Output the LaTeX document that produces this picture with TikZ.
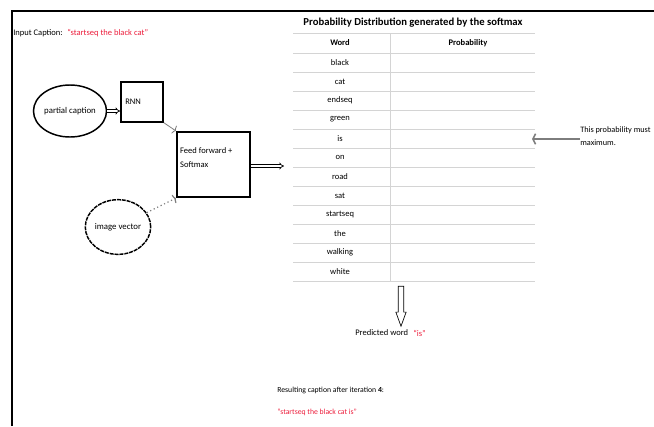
\documentclass[tikz,border=0pt]{standalone}
\usepackage{fontspec}
\setmainfont{Carlito}
\usetikzlibrary{positioning,arrows.meta,shapes.geometric,shapes.arrows}
\definecolor{capred}{RGB}{236,30,60}
\definecolor{gridgray}{RGB}{212,212,212}
\definecolor{linkgray}{RGB}{125,125,125}

\tikzset{
  txt/.style={font=\fontsize{6.4}{7.5}\selectfont, inner sep=0pt},
  headtxt/.style={font=\fontsize{6.4}{7.5}\selectfont\bfseries, inner sep=0pt},
  ell/.style={draw, ellipse, line width=1.1pt, inner sep=0pt, font=\fontsize{6.6}{7.5}\selectfont},
  box/.style={draw, rectangle, line width=1.1pt, font=\fontsize{6.4}{11}\selectfont, align=left},
  dbl/.style={double, double distance=1.3pt, line width=0.5pt, -{Implies}},
  grid/.style={gridgray, line width=0.6pt}
}

\begin{document}
\begin{tikzpicture}[x=0.75pt,y=-0.75pt]
  \useasboundingbox (0,0) rectangle (654,426);

  % frame
  \draw[line width=1.2pt] (12,426) -- (12,11) -- (654,11);

  % input caption
  \node[txt, anchor=west] (inlab) at (13,33) {Input Caption:};
  \node[txt, anchor=west, text=capred] (incap) at (67,33) {``startseq the black cat''};

  % model
  \node[ell, minimum width=45pt, minimum height=39pt] (partial) at (70,111) {partial caption};
  \node[box, minimum width=30pt, minimum height=30pt, text width=25pt] (rnn) at (142,102) {RNN};
  \node[box, line width=1.4pt, inner xsep=2.5pt, inner ysep=2.5pt] (ff) at (213.5,164.5)
    {\parbox[c][44pt][t]{50pt}{\vspace*{9pt}Feed forward +\\Softmax}};
  \node[ell, dash pattern=on 3pt off 0.7pt, minimum width=46pt, minimum height=41pt] (img) at (118,227) {image vector};

  \draw[dbl] (partial.east) -- (partial.east -| rnn.west);
  \draw[linkgray, line width=0.6pt, -{To[length=2pt,width=7pt]}] (rnn.south east) -- (ff.north west);
  \draw[linkgray, line width=0.9pt, dotted, -{To[length=2pt,width=7pt]}] (img) -- (ff.south west);
  \coordinate (tabin) at (284,166);
  \draw[dbl] (ff.east |- tabin) -- (tabin);

  % table
  \node[font=\fontsize{8}{9}\selectfont\bfseries, inner sep=0pt] (title) at (413,23) {Probability Distribution generated by the softmax};
  \node[headtxt] (hword) at (340,43) {Word};
  \node[headtxt] (hprob) at (468,43) {Probability};
  \foreach \w [count=\i] in {black,cat,endseq,green,is,on,road,sat,startseq,the,walking,white}
    \node[txt] (w\i) at (340,43.5+19*\i) {\w};
  \draw[grid] (293,33) -- (535,33);
  \foreach \k in {0,...,12}
    \draw[grid] (293,53+19*\k) -- (535,53+19*\k);
  \draw[grid] (390,33) -- (390,281);

  % note
  \node[txt, anchor=west, align=left, font=\fontsize{6.2}{9.5}\selectfont] (note) at (580,136) {This probability must\\maximum.};
  \coordinate (pick) at (532,139);
  \draw[linkgray, line width=1.2pt, -{Straight Barb[length=2pt,width=8pt]}] (note.west |- pick) -- (pick);

  % prediction
  \node[draw, single arrow, shape border rotate=270, inner sep=1.8pt, minimum height=30pt, single arrow head extend=1.8pt, single arrow tip angle=40, line width=0.5pt] (down) at (401,302.5) {};
  \node[txt, anchor=west] (pred) at (355,333) {Predicted word};
  \node[txt, anchor=west, text=capred] (predis) at (413,333) {``is''};
  \node[txt, anchor=west, font=\fontsize{5.8}{7}\selectfont] (res) at (277,390) {Resulting caption after iteration \textbf{4}:};
  \node[txt, anchor=west, font=\fontsize{5.8}{7}\selectfont, text=capred] (rescap) at (277,412) {``startseq the black cat is''};
\end{tikzpicture}
\end{document}
